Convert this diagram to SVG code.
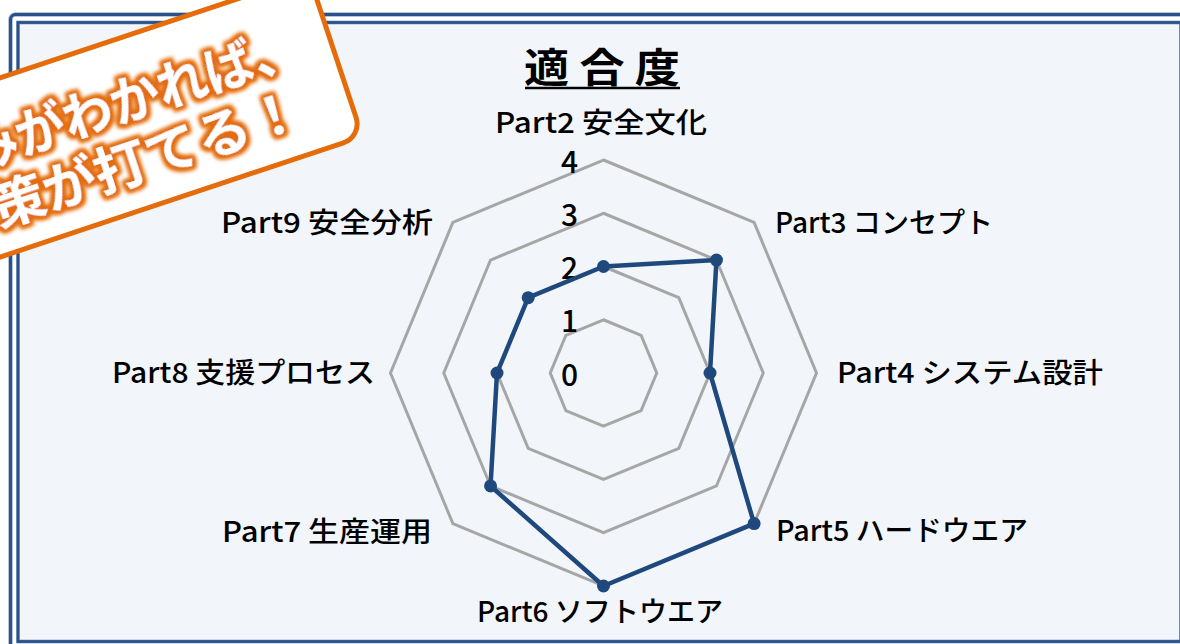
<svg xmlns="http://www.w3.org/2000/svg" width="1180" height="644" viewBox="0 0 1180 644">
  <defs>
    <style>
      .lbl { font-family: "Noto Sans CJK JP", "Noto Sans", sans-serif; font-size: 28px; font-weight: 500; fill: #000; }
      .num { font-family: "Noto Sans CJK JP", "Noto Sans", sans-serif; font-size: 30px; font-weight: 500; fill: #000; text-anchor: end; }
      .grid { fill: none; stroke: #A6A6A6; stroke-width: 3; stroke-linejoin: miter; }
      .data { fill: none; stroke: #1F497D; stroke-width: 4.5; stroke-linejoin: round; }
      .dot { fill: #1F497D; }
      .callout-text { font-family: "Noto Sans CJK JP", "Noto Sans", sans-serif; font-size: 52px; font-weight: 700; fill: #FFFFFF; }
    </style>
    <filter id="glow" x="-20%" y="-50%" width="140%" height="200%">
      <feMorphology in="SourceAlpha" operator="dilate" radius="2.5" result="d"/>
      <feGaussianBlur in="d" stdDeviation="2.2" result="b"/>
      <feFlood flood-color="#E46C0A" result="c"/>
      <feComposite in="c" in2="b" operator="in" result="g"/>
      <feMerge><feMergeNode in="g"/><feMergeNode in="g"/><feMergeNode in="SourceGraphic"/></feMerge>
    </filter>
  </defs>

  <rect x="0" y="0" width="1180" height="644" fill="#FFFFFF"/>

  <!-- frame -->
  <g id="frame">
    <rect x="10.5" y="14.5" width="1185" height="650" rx="5" fill="none" stroke="#9FB4D0" stroke-width="4.5"/>
    <rect x="10.5" y="14.5" width="1185" height="650" rx="5" fill="none" stroke="#2A5189" stroke-width="3"/>
    <rect x="18" y="22.5" width="1163" height="619" fill="#F2F6FB" stroke="#9FB4D0" stroke-width="4"/>
    <rect x="18" y="22.5" width="1163" height="619" fill="none" stroke="#2A5189" stroke-width="2.8"/>
  </g>

  <!-- title -->
  <g id="title">
    <text x="524" y="82" textLength="156" lengthAdjust="spacingAndGlyphs" style="font-family: 'Noto Sans CJK JP', 'Noto Sans', sans-serif; font-size: 40px; font-weight: 700;" fill="#000">適 合 度</text>
    <line x1="525" y1="88" x2="680" y2="88" stroke="#000" stroke-width="2.5"/>
  </g>

  <!-- grid -->
  <g id="grid">
    <polygon class="grid" points="603.5,319.75 641.15,335.35 656.75,373 641.15,410.65 603.5,426.25 565.85,410.65 550.25,373 565.85,335.35"/>
    <polygon class="grid" points="603.5,266.5 678.81,297.69 710,373 678.81,448.31 603.5,479.5 528.19,448.31 497,373 528.19,297.69"/>
    <polygon class="grid" points="603.5,213.25 716.46,260.04 763.25,373 716.46,485.96 603.5,532.75 490.54,485.96 443.75,373 490.54,260.04"/>
    <polygon class="grid" points="603.5,160 754.11,222.39 816.5,373 754.11,523.61 603.5,586 452.89,523.61 390.5,373 452.89,222.39"/>
  </g>

  <!-- scale numbers -->
  <g id="scale">
    <text class="num" x="578" y="173">4</text>
    <text class="num" x="578" y="226">3</text>
    <text class="num" x="578" y="279">2</text>
    <text class="num" x="578" y="332">1</text>
    <text class="num" x="578" y="386">0</text>
  </g>

  <!-- data series -->
  <g id="connectors">
    <polygon class="data" points="603.5,266.5 716.46,260.04 710,373 754.11,523.61 603.5,586 490.54,485.96 497,373 528.19,297.69"/>
  </g>
  <g id="points">
    <circle class="dot" cx="603.5" cy="266.5" r="6.5"/>
    <circle class="dot" cx="716.46" cy="260.04" r="6.5"/>
    <circle class="dot" cx="710" cy="373" r="6.5"/>
    <circle class="dot" cx="754.11" cy="523.61" r="6.5"/>
    <circle class="dot" cx="603.5" cy="586" r="6.5"/>
    <circle class="dot" cx="490.54" cy="485.96" r="6.5"/>
    <circle class="dot" cx="497" cy="373" r="6.5"/>
    <circle class="dot" cx="528.19" cy="297.69" r="6.5"/>
  </g>

  <!-- axis labels -->
  <g id="part2"><text class="lbl" x="495" y="133" textLength="212" lengthAdjust="spacingAndGlyphs">Part2 安全文化</text></g>
  <g id="part3"><text class="lbl" x="775" y="233" textLength="218" lengthAdjust="spacingAndGlyphs">Part3 コンセプト</text></g>
  <g id="part4"><text class="lbl" x="837" y="383" textLength="266" lengthAdjust="spacingAndGlyphs">Part4 システム設計</text></g>
  <g id="part5"><text class="lbl" x="776" y="541" textLength="252" lengthAdjust="spacingAndGlyphs">Part5 ハードウエア</text></g>
  <g id="part6"><text class="lbl" x="477" y="622" textLength="246" lengthAdjust="spacingAndGlyphs">Part6 ソフトウエア</text></g>
  <g id="part7"><text class="lbl" x="222" y="542" textLength="210" lengthAdjust="spacingAndGlyphs">Part7 生産運用</text></g>
  <g id="part8"><text class="lbl" x="112" y="383" textLength="263" lengthAdjust="spacingAndGlyphs">Part8 支援プロセス</text></g>
  <g id="part9"><text class="lbl" x="221" y="233" textLength="212" lengthAdjust="spacingAndGlyphs">Part9 安全分析</text></g>

  <!-- callout -->
  <g id="callout" transform="translate(362.4,136.5) rotate(-18.4)">
    <rect x="-460" y="-170" width="460" height="170" rx="20" fill="#FFFFFF" stroke="#E46C0A" stroke-width="5"/>
    <text class="callout-text" x="-428" y="-89" textLength="398" lengthAdjust="spacingAndGlyphs" filter="url(#glow)">弱みがわかれば、</text>
    <text class="callout-text" x="-428" y="-28" textLength="378" lengthAdjust="spacingAndGlyphs" filter="url(#glow)">対策が打てる！</text>
  </g>
</svg>
